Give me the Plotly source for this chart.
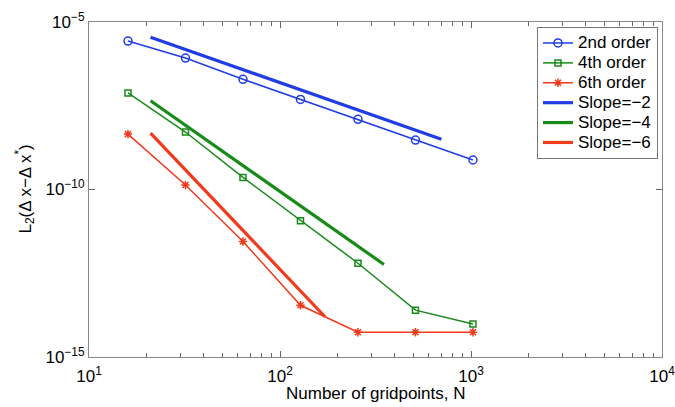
import plotly.graph_objects as go

# Grid resolutions and L2 errors for each scheme
gridpoints = [16, 32, 64, 128, 256, 512, 1024]
err_2nd = [2.7e-6, 8.4e-7, 1.95e-7, 4.9e-8, 1.24e-8, 3.0e-9, 7.6e-10]
err_4th = [7.6e-8, 5.2e-9, 2.3e-10, 1.17e-11, 6.3e-13, 2.5e-14, 9.7e-15]
err_6th = [4.5e-9, 1.36e-10, 2.8e-12, 3.5e-14, 5.5e-15, 5.5e-15, 5.5e-15]

# Reference slope guides: start N, end N, error at start N, slope
slope_orders = [-2, -4, -6]
slope_n_start = [21, 21, 21]
slope_n_end = [700, 350, 172]
slope_err_start = [3.5e-6, 4.47e-8, 4.8e-9]

order_names = ["2nd order", "4th order", "6th order"]
slope_names = ["Slope=\u22122", "Slope=\u22124", "Slope=\u22126"]

colors = ["#1f3ce6", "#188a18", "#f03a1c"]
markers = ["circle-open", "square-open", "asterisk-open"]
marker_sizes = [8, 6, 7]

x_tickvals = [10, 100, 1000, 10000]
x_ticktext = ["10<sup>1</sup>", "10<sup>2</sup>", "10<sup>3</sup>", "10<sup>4</sup>"]
y_tickvals = [1e-15, 1e-10, 1e-5]
y_ticktext = ["10<sup>\u221215</sup>", "10<sup>\u221210</sup>", "10<sup>\u22125</sup>"]

x_minor = [m * 10 ** d for d in range(1, 4) for m in range(2, 10)]

x_title = "Number of gridpoints, N"
y_title = "L<sub>2</sub>(\u0394 x\u2212\u0394 x<sup>*</sup>)"

FONT = "Liberation Sans, Arial, sans-serif"


def legend_label(text):
    # larger glyphs than the legend's base size keep the rows compact
    return '<span style="font-size:17px">' + text + "</span>"


fig = go.Figure()

for name, errs, col, sym, ms in zip(order_names, [err_2nd, err_4th, err_6th],
                                     colors, markers, marker_sizes):
    fig.add_trace(go.Scatter(
        x=gridpoints, y=errs, name=legend_label(name), mode="lines+markers",
        line=dict(color=col, width=1.5),
        marker=dict(symbol=sym, size=ms, color=col, line=dict(color=col, width=1.5)),
    ))

for name, p, n0, n1, e0, col in zip(slope_names, slope_orders, slope_n_start,
                                    slope_n_end, slope_err_start, colors):
    fig.add_trace(go.Scatter(
        x=[n0, n1], y=[e0, e0 * (n1 / n0) ** p], name=legend_label(name), mode="lines",
        line=dict(color=col, width=3.2),
    ))

axis_font = dict(family=FONT, size=17, color="#000")

fig.update_layout(
    width=675, height=407,
    margin=dict(l=89, r=13, t=22, b=50),
    paper_bgcolor="white", plot_bgcolor="white",
    font=axis_font,
    showlegend=True,
    legend=dict(
        x=0.993, xanchor="right", y=0.985, yanchor="top",
        bordercolor="#777", borderwidth=1, bgcolor="white",
        font=dict(family=FONT, size=13, color="#000"),
        tracegroupgap=0, itemwidth=30,
    ),
    annotations=[
        dict(text=x_title, xref="paper", yref="paper", x=0.5, y=0,
             xanchor="center", yanchor="middle", yshift=-36,
             showarrow=False, font=axis_font),
        dict(text=y_title, xref="paper", yref="paper", x=0, y=0.5,
             xanchor="center", yanchor="middle", xshift=-64, textangle=-90,
             showarrow=False, font=axis_font),
    ],
)

fig.update_xaxes(
    type="log", range=[1, 4], automargin=False,
    tickmode="array", tickvals=x_tickvals, ticktext=x_ticktext,
    ticklabeloverflow="allow", ticklabelstandoff=4,
    ticks="inside", ticklen=6, tickcolor="#666",
    minor=dict(tickmode="array", tickvals=x_minor, ticks="inside", ticklen=4, tickcolor="#666"),
    showline=True, linecolor="#888", linewidth=1, mirror="ticks",
    showgrid=False, zeroline=False,
    tickfont=axis_font,
)

fig.update_yaxes(
    type="log", range=[-15, -5], automargin=False,
    tickmode="array", tickvals=y_tickvals, ticktext=y_ticktext,
    ticklabeloverflow="allow",
    ticks="inside", ticklen=6, tickcolor="#666",
    showline=True, linecolor="#888", linewidth=1, mirror="ticks",
    showgrid=False, zeroline=False,
    tickfont=axis_font,
)

fig.write_html("out.html")
